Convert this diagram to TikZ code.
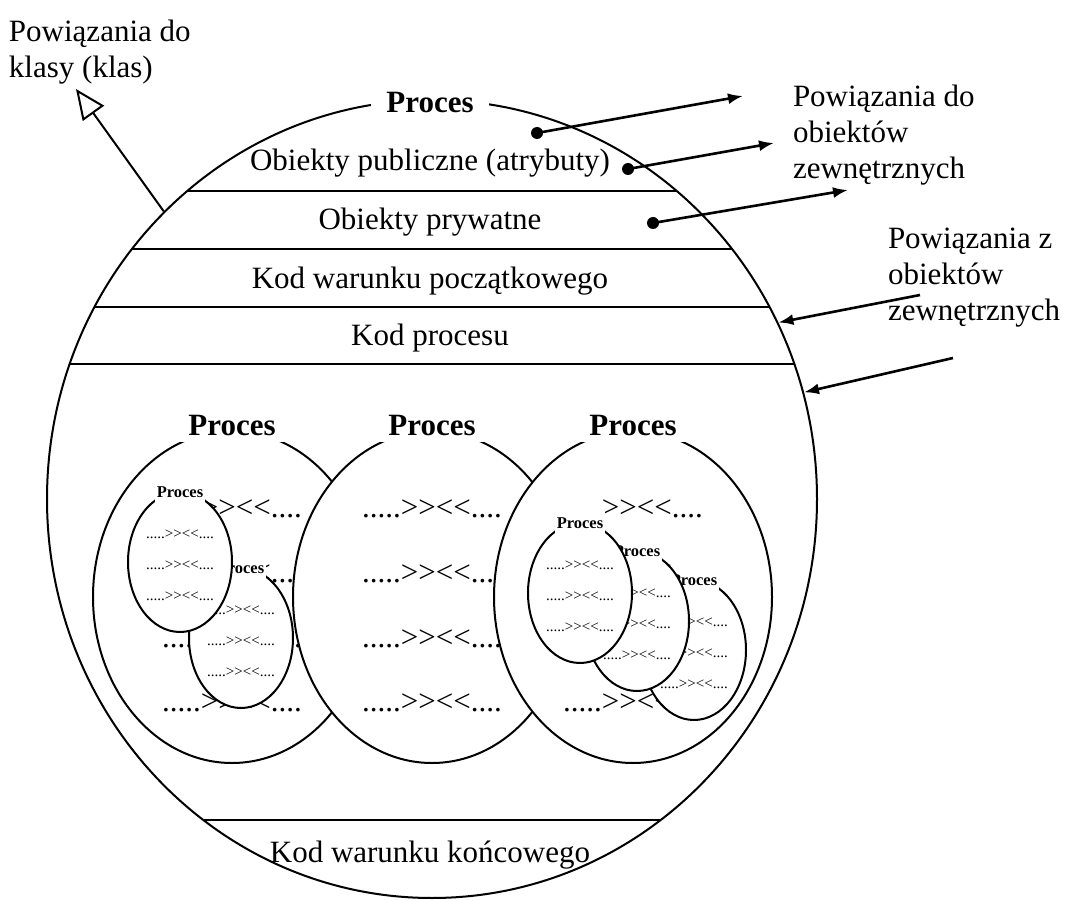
\documentclass[tikz,border=0pt]{standalone}
\usepackage{fontspec}
\setmainfont{Liberation Serif}
\usetikzlibrary{shapes.geometric,arrows.meta}
\newcommand\gtltpair{>\kern0pt>\kern0pt<\kern0pt<}
\newcommand\dotrow{.....\gtltpair....}
\newcommand\medproc[2]{%
  \node[mproc] (#1) at (#2,597) {};
  \node[mlabel] (#1l) at (#2,426) {Proces};
  \node[mtext] (#1r1) at (#2,509) {\dotrow};
  \node[mtext] (#1r2) at (#2,574) {\dotrow};
  \node[mtext] (#1r3) at (#2,639) {\dotrow};
  \node[mtext] (#1r4) at (#2,703) {\dotrow};
}
\newcommand\smallproc[3]{%
  \node[sproc] (#1) at (#2,#3) {};
  \node[slabel] (#1l) at (#2,#3-70) {Proces};
  \node[stext] (#1r1) at (#2,#3-28) {\dotrow};
  \node[stext] (#1r2) at (#2,#3+3) {\dotrow};
  \node[stext] (#1r3) at (#2,#3+34) {\dotrow};
}
\begin{document}
\begin{tikzpicture}[x=1pt,y=-1pt,line width=2pt,
  bigfont/.style={font=\fontsize{31}{36}\selectfont},
  boldbig/.style={font=\fontsize{31}{36}\selectfont\bfseries},
  mproc/.style={draw, fill=white, ellipse, minimum width=278pt, minimum height=332pt, inner sep=0pt},
  sproc/.style={draw, fill=white, ellipse, minimum width=104pt, minimum height=140pt, inner sep=0pt},
  mlabel/.style={boldbig, fill=white, inner xsep=13pt, inner ysep=6pt},
  slabel/.style={font=\fontsize{16.5}{18}\selectfont\bfseries, fill=white, inner xsep=2pt, inner ysep=8pt},
  mtext/.style={bigfont, inner sep=0pt},
  stext/.style={font=\fontsize{15}{17}\selectfont, inner sep=0pt},
  dotn/.style={circle, fill, minimum size=12pt, inner sep=0pt},
  outarrow/.style={line width=2.6pt, -{Latex[length=15pt, width=11pt]}},
  classarrow/.style={line width=2pt, -{Triangle[open, length=30pt, width=26pt]}},
  sidelabel/.style={bigfont, align=left, anchor=north west, inner sep=0pt}
]
\useasboundingbox (0,0) rectangle (1066,901);

% outer process
\node[draw, ellipse, minimum width=770pt, minimum height=798pt, inner sep=0pt] (outer) at (432,499) {};
\begin{scope}
  \clip (432,499) ellipse [x radius=385pt, y radius=399pt];
  \foreach \yy in {191,249,307,364,820} \draw (0,\yy) -- (1066,\yy);
\end{scope}
\node[boldbig, fill=white, inner xsep=15pt, inner ysep=5pt] (title) at (430,103) {Proces};

\node[bigfont] (pub) at (430,163) {Obiekty publiczne (atrybuty)};
\node[bigfont] (priv) at (430,222) {Obiekty prywatne};
\node[bigfont] (init) at (430,281) {Kod warunku początkowego};
\node[bigfont] (code) at (430,338) {Kod procesu};
\node[bigfont] (fin) at (430,855) {Kod warunku końcowego};

% inner processes
\medproc{ma}{232}
\smallproc{sb}{241}{638}
\smallproc{sa}{180}{562}
\medproc{mb}{432}
\medproc{mc}{633}
\smallproc{se}{694}{650}
\smallproc{sd}{637}{621}
\smallproc{sc}{580}{593}

% links to class
\coordinate (klasa) at (76,89);
\draw[classarrow] (outer.133.4) -- (klasa);
\node[sidelabel] (lklasa) at (8,19) {Powiązania do\\klasy (klas)};

% outgoing links
\node[dotn] (d1) at (537,133) {};
\node[dotn] (d2) at (628,169) {};
\node[dotn] (d3) at (653,223) {};
\coordinate (t1) at (743,96);
\coordinate (t2) at (774,143);
\coordinate (t3) at (848,190);
\draw[outarrow] (d1.center) -- (t1);
\draw[outarrow] (d2.center) -- (t2);
\draw[outarrow] (d3.center) -- (t3);
\node[sidelabel] (lout) at (792,84) {Powiązania do\\obiektów\\zewnętrznych};

% incoming links
\coordinate (s1) at (920,295);
\coordinate (s2) at (953,358);
\draw[outarrow] (s1) -- (outer.27.3);
\draw[outarrow] (s2) -- (outer.16.6);
\node[sidelabel] (lin) at (887,227) {Powiązania z\\obiektów\\zewnętrznych};
\end{tikzpicture}
\end{document}
